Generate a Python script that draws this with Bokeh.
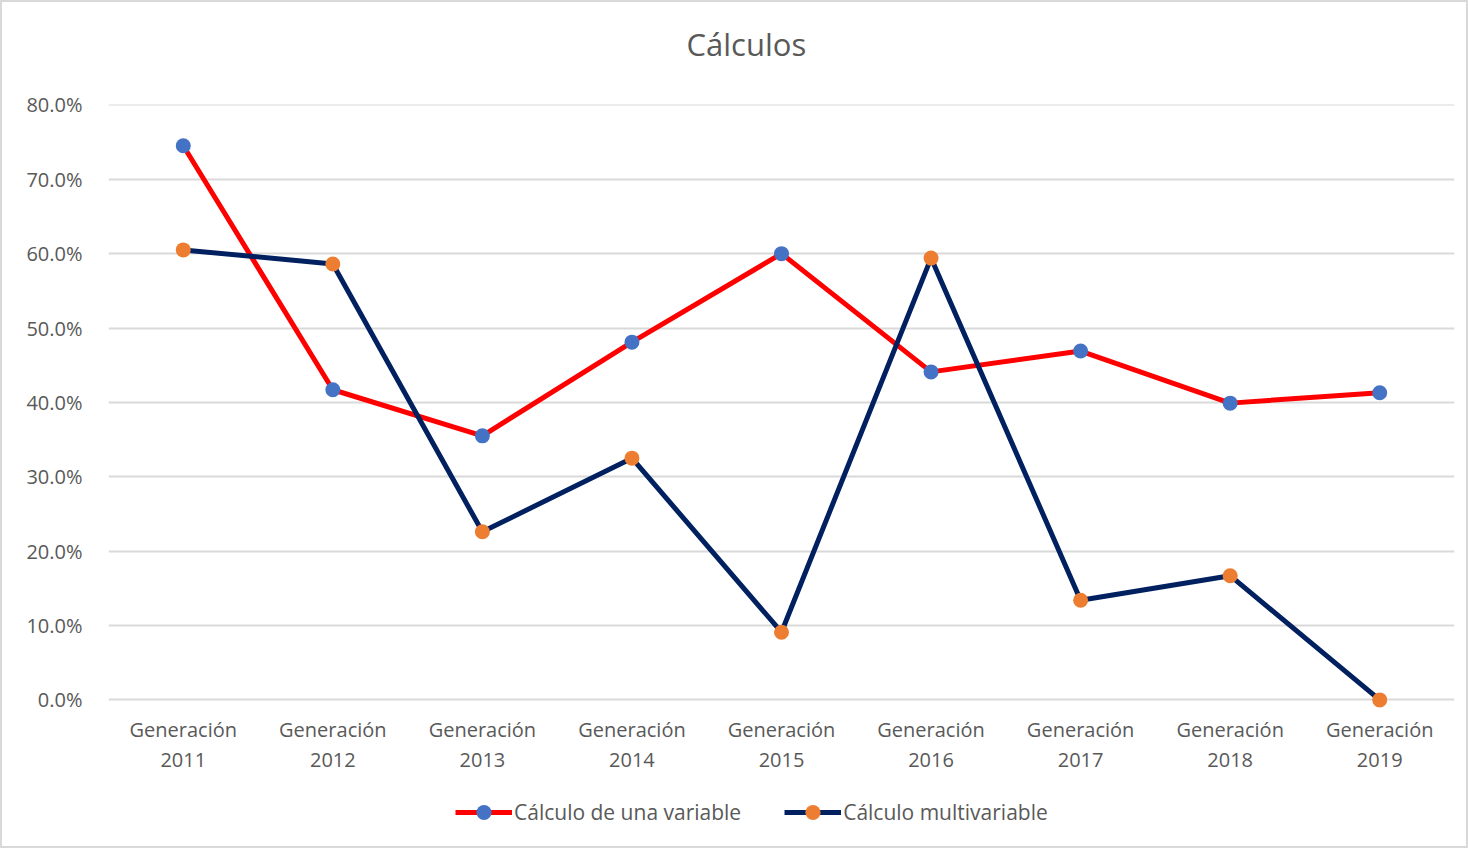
from bokeh.plotting import figure
from bokeh.models import (FactorRange, Range1d, NumeralTickFormatter, Legend, LegendItem,
                          ColumnDataSource, FixedTicker, Title)
from bokeh.embed import file_html
from bokeh.resources import INLINE

categories = ["Generación\n2011", "Generación\n2012", "Generación\n2013", "Generación\n2014",
              "Generación\n2015", "Generación\n2016", "Generación\n2017", "Generación\n2018",
              "Generación\n2019"]
una_variable = [0.745, 0.417, 0.355, 0.481, 0.600, 0.441, 0.469, 0.399, 0.413]
multivariable = [0.605, 0.586, 0.226, 0.325, 0.091, 0.594, 0.134, 0.167, 0.000]
series_names = ["Cálculo de una variable", "Cálculo multivariable"]
y_ticks = [0.0, 0.1, 0.2, 0.3, 0.4, 0.5, 0.6, 0.7, 0.8]

FONT = "Open Sans"
TXT = "#595959"

# the frame reaches down to the bottom of the chart so that the legend can sit in it
p = figure(x_range=FactorRange(*categories, range_padding=0),
           y_range=Range1d(-0.1971, 0.8005),
           frame_width=1346, frame_height=742,
           min_border_left=106, min_border_right=12, min_border_top=102, min_border_bottom=0,
           output_backend="svg", toolbar_location=None, title="Cálculos")
p.styles = {"border": "2px solid #d9d9d9", "box-sizing": "border-box"}

# spacer between the frame and the title
p.add_layout(Title(text=" ", text_font_size="1px", standoff=32), "above")

p.title.align = "left"
p.title.offset = 578
p.title.text_font = FONT
p.title.text_font_size = "31px"
p.title.text_font_style = "normal"
p.title.text_color = TXT
p.title.standoff = 10

p.outline_line_color = None
p.background_fill_color = "white"
p.border_fill_color = "white"

p.xgrid.grid_line_color = None
p.ygrid.grid_line_color = "#d9d9d9"
p.ygrid.grid_line_width = 2
p.yaxis.ticker = FixedTicker(ticks=y_ticks)
p.yaxis.formatter = NumeralTickFormatter(format="0.0%")

for ax in (p.xaxis[0], p.yaxis[0]):
    ax.axis_line_color = None
    ax.major_tick_line_color = None
    ax.minor_tick_line_color = None
    ax.major_label_text_font = FONT
    ax.major_label_text_font_size = "20px"
    ax.major_label_text_color = TXT
p.yaxis.major_label_standoff = 20
p.xaxis.fixed_location = 0
p.xaxis.major_label_standoff = 10
p.xaxis.major_label_text_line_height = 1.1

src = ColumnDataSource(dict(x=categories, a=una_variable, b=multivariable))

l1 = p.line("x", "a", source=src, line_color="#ff0000", line_width=5)
s1 = p.scatter("x", "a", source=src, size=15, fill_color="#4472c4", line_color=None)
l2 = p.line("x", "b", source=src, line_color="#002060", line_width=5)
s2 = p.scatter("x", "b", source=src, size=15, fill_color="#ed7d31", line_color=None)

legend = Legend(items=[LegendItem(label=series_names[0], renderers=[l1, s1]),
                       LegendItem(label=series_names[1], renderers=[l2, s2])],
                orientation="horizontal", location=(347, 15),
                label_text_font=FONT, label_text_font_size="21px", label_text_color=TXT,
                label_height=38, glyph_height=38, glyph_width=57, label_standoff=2, spacing=43,
                border_line_color=None, background_fill_alpha=0, margin=0, padding=0)
p.add_layout(legend)

open("out.html", "w").write(file_html(p, INLINE))
